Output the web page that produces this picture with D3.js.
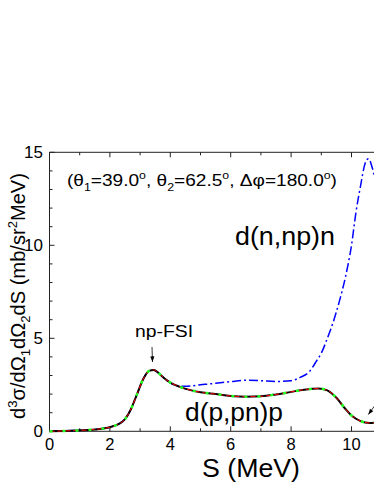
<!DOCTYPE html>
<html><head><meta charset="utf-8">
<script src="https://cdn.jsdelivr.net/npm/d3@7"></script>
<style>body{margin:0;background:#fff}svg{display:block}text{font-family:"Liberation Sans",Arial,sans-serif}</style>
</head><body><svg id="c" width="374" height="484"></svg>
<script>
// ---- data ----
const sGrid = [0,0.5,1,1.5,2,2.3,2.5,2.7,2.9,3.1,3.3,3.45,3.6,3.8,4.0,4.3,4.7,5.0,5.5,6.0,6.5,7.0,7.5,8.0,8.5,8.9,9.2,9.5,9.8,10.0,10.3,10.6,10.9];
const solidVals  = [0,0.02,0.05,0.1,0.22,0.4,0.65,1.2,2.0,2.8,3.25,3.3,3.15,2.85,2.62,2.4,2.2,2.1,2.0,1.9,1.86,1.88,1.98,2.12,2.25,2.3,2.2,1.8,1.2,0.85,0.55,0.45,0.48];
const dashVals   = [0,0.02,0.05,0.1,0.22,0.4,0.65,1.2,2.0,2.8,3.25,3.3,3.15,2.85,2.62,2.4,2.2,2.1,2.0,1.9,1.86,1.88,1.98,2.12,2.25,2.3,2.2,1.8,1.2,0.85,0.55,0.45,0.48];
const dotVals    = [0,0.02,0.05,0.1,0.22,0.4,0.65,1.2,2.0,2.8,3.25,3.3,3.15,2.85,2.62,2.4,2.2,2.1,2.0,1.9,1.86,1.88,1.98,2.12,2.25,2.3,2.2,1.8,1.2,0.85,0.55,0.45,0.48];
const sBlue      = [0,0.5,1,1.5,2,2.3,2.5,2.7,2.9,3.1,3.3,3.45,3.6,3.8,4.0,4.3,4.5,5.0,5.5,6.0,6.5,7.0,7.5,8.0,8.3,8.6,8.85,9.0,9.2,9.4,9.6,9.8,10.0,10.15,10.3,10.45,10.56,10.7,10.85];
const blueVals   = [0,0.02,0.05,0.1,0.22,0.4,0.65,1.2,2.0,2.8,3.25,3.3,3.15,2.85,2.6,2.42,2.42,2.5,2.58,2.67,2.74,2.72,2.68,2.72,2.9,3.2,3.8,4.2,5.0,5.9,7.0,8.3,10.0,11.8,13.2,14.4,14.65,14.1,13.0];
const xMajor = [0,2,4,6,8,10];
const xMinor = [1,3,5,7,9,11];
const yMajor = [0,5,10,15];
const yMinor = [1,2,3,4,6,7,8,9,11,12,13,14];

// ---- layout ----
const svg = d3.select("#c");
const x = d3.scaleLinear().domain([0,11]).range([49.5, 381.7]);
const y = d3.scaleLinear().domain([0,15]).range([431.3, 152.3]);
const X0 = x(0), X1 = x(11), Y0 = y(0), Y1 = y(15);

// axes frame
const g = svg.append("g").attr("stroke","#222").attr("stroke-width",1);
g.append("line").attr("x1",X0).attr("x2",X1).attr("y1",Y0).attr("y2",Y0);
g.append("line").attr("x1",X0).attr("x2",X1).attr("y1",Y1).attr("y2",Y1);
g.append("line").attr("x1",X0).attr("x2",X0).attr("y1",Y0).attr("y2",Y1);
g.append("line").attr("x1",X1).attr("x2",X1).attr("y1",Y0).attr("y2",Y1);
function xt(vals,len){vals.forEach(v=>{
  g.append("line").attr("x1",x(v)).attr("x2",x(v)).attr("y1",Y0).attr("y2",Y0-len);
  g.append("line").attr("x1",x(v)).attr("x2",x(v)).attr("y1",Y1).attr("y2",Y1+len);});}
function yt(vals,len){vals.forEach(v=>{
  g.append("line").attr("y1",y(v)).attr("y2",y(v)).attr("x1",X0).attr("x2",X0+len);
  g.append("line").attr("y1",y(v)).attr("y2",y(v)).attr("x1",X1).attr("x2",X1-len);});}
xt(xMajor,5); xt(xMinor,3); yt(yMajor,5); yt(yMinor,3);

svg.selectAll(".xl").data(xMajor).enter().append("text")
  .attr("x",d=>x(d)).attr("y",450).attr("text-anchor","middle").attr("font-size",16.5).text(d=>d);
svg.selectAll(".yl").data(yMajor).enter().append("text")
  .attr("x",43).attr("y",d=>y(d)+6).attr("text-anchor","end").attr("font-size",17).text(d=>d);

// curves
const line = (xs,ys)=>d3.line().curve(d3.curveMonotoneX)(xs.map((s,i)=>[x(s),y(ys[i])]));
svg.append("path").attr("d",line(sBlue,blueVals)).attr("fill","none").attr("stroke","#0000ff")
  .attr("stroke-width",1.5).attr("stroke-dasharray","9,3,2,3");
svg.append("path").attr("d",line(sGrid,solidVals)).attr("fill","none").attr("stroke","#000").attr("stroke-width",2);
svg.append("path").attr("d",line(sGrid,dashVals)).attr("fill","none").attr("stroke","#ff0000").attr("stroke-width",1).attr("stroke-dasharray","5,3");
svg.append("path").attr("d",line(sGrid,dotVals)).attr("fill","none").attr("stroke","#22ff22").attr("stroke-width",2.5).attr("stroke-dasharray","3,10");

// texts
const tt = svg.append("text").attr("x",67).attr("y",186).attr("font-size",17).attr("textLength",270).attr("lengthAdjust","spacingAndGlyphs");
tt.append("tspan").text("(θ");
tt.append("tspan").attr("font-size",11).attr("dy",5).text("1");
tt.append("tspan").attr("dy",-5).text("=39.0");
tt.append("tspan").attr("font-size",11).attr("dy",-7).text("o");
tt.append("tspan").attr("dy",7).text(", θ");
tt.append("tspan").attr("font-size",11).attr("dy",5).text("2");
tt.append("tspan").attr("dy",-5).text("=62.5");
tt.append("tspan").attr("font-size",11).attr("dy",-7).text("o");
tt.append("tspan").attr("dy",7).text(", Δφ=180.0");
tt.append("tspan").attr("font-size",11).attr("dy",-7).text("o");
tt.append("tspan").attr("dy",7).text(")");

svg.append("text").attr("x",235).attr("y",245).attr("font-size",25).attr("textLength",100).attr("lengthAdjust","spacingAndGlyphs").text("d(n,np)n");
svg.append("text").attr("x",185).attr("y",421).attr("font-size",25).attr("textLength",98).attr("lengthAdjust","spacingAndGlyphs").text("d(p,pn)p");
svg.append("text").attr("x",135).attr("y",337).attr("font-size",16).attr("textLength",58).attr("lengthAdjust","spacingAndGlyphs").text("np-FSI");
svg.append("text").attr("x",202).attr("y",477).attr("font-size",25).attr("textLength",98).attr("lengthAdjust","spacingAndGlyphs").text("S (MeV)");

// arrows
function arrow(x1,y1,x2,y2){
  svg.append("line").attr("x1",x1).attr("y1",y1).attr("x2",x2).attr("y2",y2).attr("stroke","#000").attr("stroke-width",0.8);
  const a=Math.atan2(y2-y1,x2-x1), L=6, w=0.35;
  const p=[[x2,y2],[x2-L*Math.cos(a-w),y2-L*Math.sin(a-w)],[x2-L*Math.cos(a+w),y2-L*Math.sin(a+w)]];
  svg.append("path").attr("d","M"+p.map(q=>q.join(",")).join("L")+"Z").attr("fill","#000");
}
arrow(152,347,152.5,362);
arrow(376,404,368.3,414.5);

// y title
const yg = svg.append("text").attr("transform","translate(25,296) rotate(-90)").attr("text-anchor","middle").attr("font-size",20).attr("textLength",246).attr("lengthAdjust","spacingAndGlyphs");
yg.append("tspan").text("d");
yg.append("tspan").attr("font-size",13).attr("dy",-8).text("3");
yg.append("tspan").attr("dy",8).text("σ/dΩ");
yg.append("tspan").attr("font-size",13).attr("dy",5).text("1");
yg.append("tspan").attr("dy",-5).text("dΩ");
yg.append("tspan").attr("font-size",13).attr("dy",5).text("2");
yg.append("tspan").attr("dy",-5).text("dS  (mb/sr");
yg.append("tspan").attr("font-size",13).attr("dy",-8).text("2");
yg.append("tspan").attr("dy",8).text("MeV)");
</script></body></html>
